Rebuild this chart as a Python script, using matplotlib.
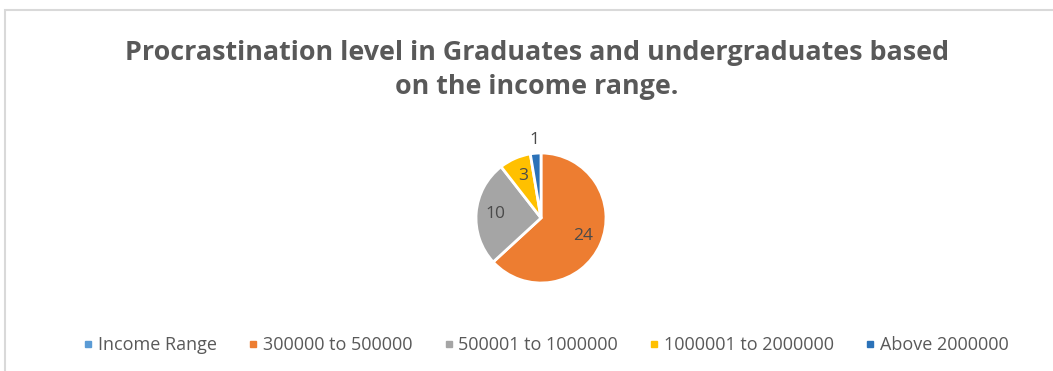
import matplotlib
matplotlib.use('Agg')
import matplotlib.pyplot as plt
from matplotlib.lines import Line2D
from matplotlib.patches import Rectangle
import numpy as np

plt.rcParams['font.family'] = ['Open Sans', 'DejaVu Sans']

title = 'Procrastination level in Graduates and undergraduates based\non the income range.'
categories = ['Income Range', '300000 to 500000', '500001 to 1000000',
              '1000001 to 2000000', 'Above 2000000']
counts = [0, 24, 10, 3, 1]
colors = ['#5B9BD5', '#ED7D31', '#A5A5A5', '#FFC000', '#2B72B8']

W, H = 1053, 371
fig = plt.figure(figsize=(W / 100, H / 100), dpi=100)

# light frame around the chart area
fig.patches.append(Rectangle((5 / W, -0.1), 1.2, 1 - 10 / H + 0.1,
                             transform=fig.transFigure, fill=False,
                             edgecolor='#D9D9D9', linewidth=1.5))

cx, cy, r = 541, 218, 65
half = r * 1.25
ax = fig.add_axes([(cx - half) / W, (H - cy - half) / H, 2 * half / W, 2 * half / H])
wedges, _ = ax.pie(counts, colors=colors, startangle=90, counterclock=False,
                   wedgeprops=dict(edgecolor='white', linewidth=2))

# value labels: inside the slice, except tiny ones go outside
for w, v in zip(wedges, counts):
    if v == 0:
        continue
    mid = np.deg2rad((w.theta1 + w.theta2) / 2)
    d = 1.2 if v < 2 else 0.7
    ax.text(d * np.cos(mid), d * np.sin(mid), str(v), ha='center', va='center',
            fontsize=12.5, color='#4A4A4A')

fig.text(0.51, 1 - 70 / H, title, ha='center', va='center', fontsize=19.4,
         fontweight='bold', color='#595959', linespacing=1.45)

handles = [Line2D([], [], marker='s', linestyle='none', markersize=5,
                  markerfacecolor=c, markeredgecolor=c) for c in colors]
fig.legend(handles, categories, loc='center', bbox_to_anchor=(544 / W, 1 - 345 / H),
           ncol=5, frameon=False, fontsize=13, labelcolor='#595959',
           handletextpad=0.05, columnspacing=1.5, handlelength=1.0)

fig.savefig('out.png', dpi=100)
